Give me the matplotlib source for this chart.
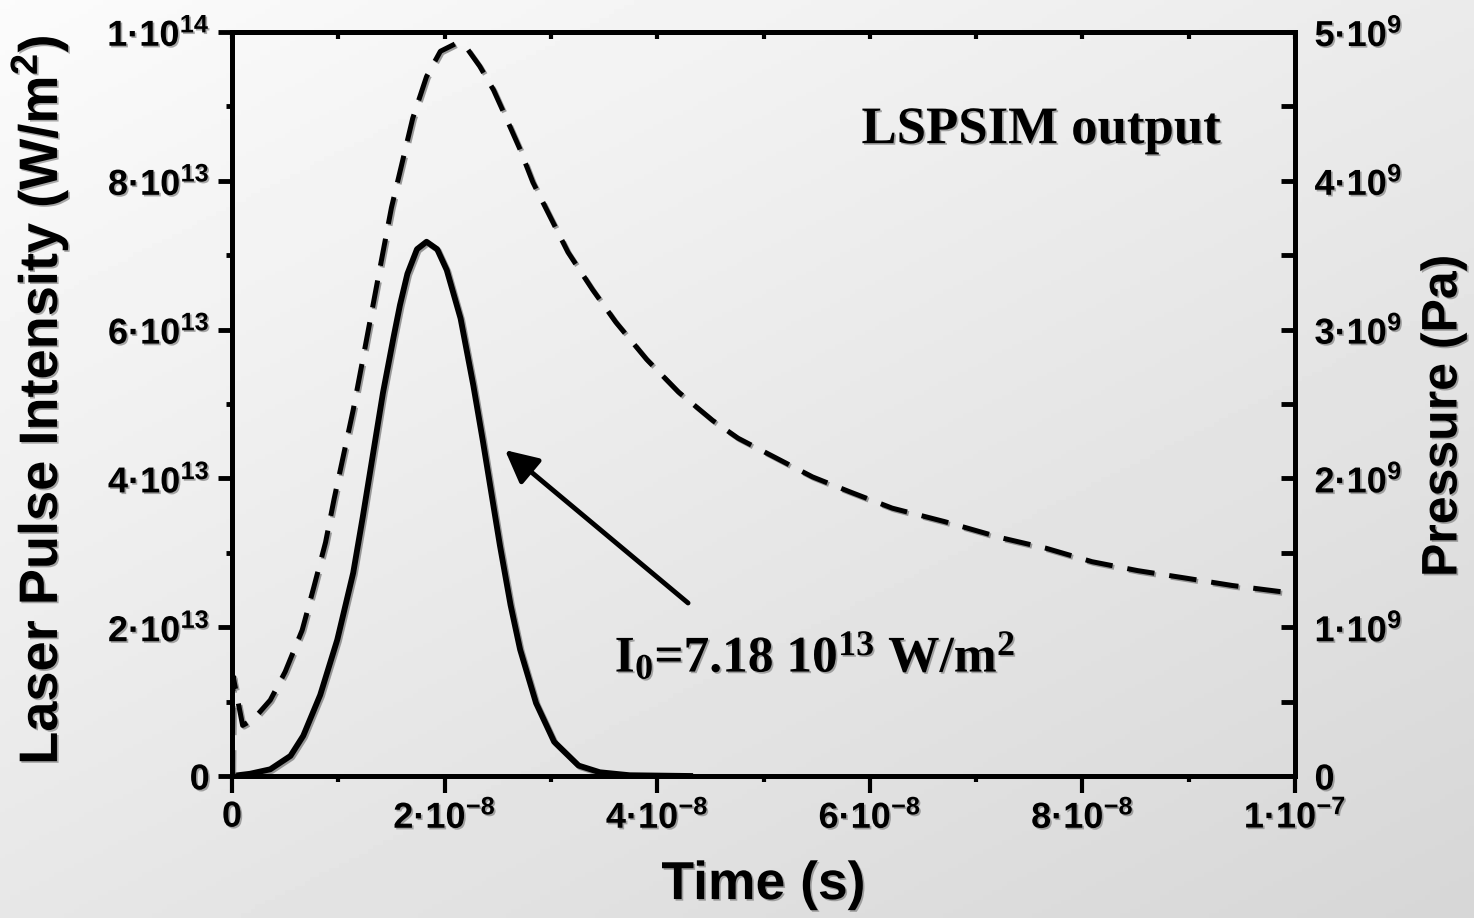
import numpy as np
import matplotlib
matplotlib.use("Agg")
import matplotlib.pyplot as plt
from matplotlib import patheffects as pe
from matplotlib.ticker import MultipleLocator

plt.rcParams['font.family'] = ['Liberation Sans', 'DejaVu Sans']
plt.rcParams['font.weight'] = 'bold'
plt.rcParams['axes.labelweight'] = 'bold'
plt.rcParams['mathtext.default'] = 'regular'

# laser pulse: time in 1e-8 s, intensity in 1e13 W/m^2
t_pulse = [0, 0.17, 0.36, 0.55, 0.67, 0.83, 0.99, 1.14, 1.23, 1.33,
           1.42, 1.52, 1.58, 1.65, 1.74, 1.83, 1.93, 2.02, 2.15, 2.27,
           2.36, 2.44, 2.52, 2.62, 2.71, 2.86, 3.03, 3.26, 3.46, 3.74, 4.31]
i_pulse = [0, 0.03, 0.09, 0.27, 0.54, 1.09, 1.83, 2.73, 3.48, 4.36,
           5.15, 5.90, 6.33, 6.75, 7.08, 7.18, 7.08, 6.80, 6.15, 5.25,
           4.50, 3.80, 3.10, 2.30, 1.70, 0.98, 0.46, 0.14, 0.05, 0.01, 0]

# plasma pressure: time in 1e-8 s, pressure in 1e9 Pa
t_press = [0, 0.01, 0.10, 0.20, 0.36, 0.50, 0.66, 0.77, 0.88, 0.96,
           1.05, 1.14, 1.22, 1.32, 1.42, 1.50, 1.60, 1.70, 1.83, 1.96,
           2.10, 2.21, 2.33, 2.46, 2.58, 2.71, 2.83, 2.97, 3.16, 3.39,
           3.61, 3.90, 4.20, 4.52, 4.76, 5.11, 5.46, 5.81, 6.21, 6.70,
           7.24, 7.66, 8.09, 8.52, 8.97, 9.41, 9.85, 10.0]
p_press = [0, 0.67, 0.34, 0.38, 0.51, 0.70, 0.98, 1.27, 1.57, 1.86,
           2.16, 2.46, 2.76, 3.14, 3.52, 3.82, 4.12, 4.42, 4.70, 4.87,
           4.92, 4.89, 4.77, 4.61, 4.42, 4.21, 3.99, 3.79, 3.52, 3.27,
           3.05, 2.80, 2.58, 2.39, 2.27, 2.14, 2.01, 1.91, 1.80, 1.71,
           1.60, 1.53, 1.44, 1.38, 1.33, 1.28, 1.24, 1.23]

x_ticks = [0, 2e-8, 4e-8, 6e-8, 8e-8, 1e-7]
x_labels = ['0', '2·10$^{-8}$', '4·10$^{-8}$', '6·10$^{-8}$', '8·10$^{-8}$', '1·10$^{-7}$']
yl_ticks = [0, 2e13, 4e13, 6e13, 8e13, 1e14]
yl_labels = ['0', '2·10$^{13}$', '4·10$^{13}$', '6·10$^{13}$', '8·10$^{13}$', '1·10$^{14}$']
yr_ticks = [0, 1e9, 2e9, 3e9, 4e9, 5e9]
yr_labels = ['0', '1·10$^{9}$', '2·10$^{9}$', '3·10$^{9}$', '4·10$^{9}$', '5·10$^{9}$']

shadow_line = [pe.SimpleLineShadow(offset=(1.2, -1.2), shadow_color='0.45', alpha=0.7), pe.Normal()]
shadow_text = [pe.withSimplePatchShadow(offset=(1.2, -1.2), shadow_rgbFace='0.45', alpha=0.6)]

fig = plt.figure(figsize=(14.74, 9.18), dpi=100)

# light grey gradient behind everything
bg = fig.add_axes([0, 0, 1, 1], zorder=-10)
u = np.linspace(0, 1, 300)
w = np.linspace(0, 1, 200)
U, W = np.meshgrid(u, w)
bg.imshow(0.985 - 0.065 * U - 0.08 * W, cmap='gray', vmin=0, vmax=1,
          aspect='auto', extent=[0, 1, 0, 1])
bg.axis('off')

ax = fig.add_axes([0.1574, 0.1547, 0.7212, 0.8105])
ax.patch.set_visible(False)
ax2 = ax.twinx()

ax.plot(np.array(t_pulse) * 1e-8, np.array(i_pulse) * 1e13, color='black',
        lw=4.2, solid_joinstyle='round', path_effects=shadow_line)
ax2.plot(np.array(t_press) * 1e-8, np.array(p_press) * 1e9, color='black',
         lw=3.6, ls=(0, (5.5, 3)), path_effects=shadow_line)

ax.set_xlim(0, 1e-7)
ax.set_ylim(0, 1e14)
ax2.set_ylim(0, 5e9)

ax.set_xticks(x_ticks, x_labels)
ax.set_yticks(yl_ticks, yl_labels)
ax2.set_yticks(yr_ticks, yr_labels)
ax.xaxis.set_minor_locator(MultipleLocator(1e-8))
ax.yaxis.set_minor_locator(MultipleLocator(1e13))
ax2.yaxis.set_minor_locator(MultipleLocator(5e8))

ax.tick_params(axis='x', which='major', direction='out', length=12, width=3, pad=5, labelsize=26)
ax.tick_params(axis='x', which='minor', direction='out', length=4, width=3)
ax.tick_params(axis='y', which='major', direction='out', length=10, width=3.5, pad=6, labelsize=26)
ax.tick_params(axis='y', which='minor', direction='out', length=4, width=3.5)
ax2.tick_params(axis='y', which='both', direction='in', length=10, width=3.5, pad=14, labelsize=26)

top = ax.secondary_xaxis('top')
top.xaxis.set_major_locator(MultipleLocator(1e-8))
top.tick_params(direction='in', length=5, width=3, labeltop=False)

for a in (ax, ax2, top):
    for s in a.spines.values():
        s.set_linewidth(3.5)

ax.set_xlabel('Time (s)', fontsize=38.5, fontweight='bold')
ax.set_ylabel('Laser Pulse Intensity (W/m$^2$)', fontsize=39, fontweight='bold')
ax2.set_ylabel('Pressure (Pa)', fontsize=36, fontweight='bold')
ax.xaxis.set_label_coords(0.5, -0.113)
ax.yaxis.set_label_coords(-0.152, 0.505)
ax2.yaxis.set_label_coords(1.118, 0.484)

ax.text(7.61e-8, 8.68e13, 'LSPSIM output', family='Liberation Serif',
        fontweight='bold', fontsize=38, ha='center', va='center',
        path_effects=shadow_text)
ax.text(3.6e-8, 1.40e13, 'I$_0$=7.18 10$^{13}$ W/m$^2$', family='Liberation Serif',
        fontweight='bold', fontsize=37, ha='left', va='baseline',
        path_effects=shadow_text)
ax.annotate('', xy=(2.568e-8, 4.38e13), xytext=(4.29e-8, 2.325e13),
            arrowprops=dict(arrowstyle='-|>,head_length=0.9,head_width=0.45',
                            mutation_scale=22, lw=3.5, color='black',
                            shrinkA=0, shrinkB=0))

for t in ax.get_xticklabels() + ax.get_yticklabels() + ax2.get_yticklabels():
    t.set_path_effects(shadow_text)
for t in (ax.xaxis.label, ax.yaxis.label, ax2.yaxis.label):
    t.set_path_effects(shadow_text)

fig.savefig('out.png', dpi=100)
